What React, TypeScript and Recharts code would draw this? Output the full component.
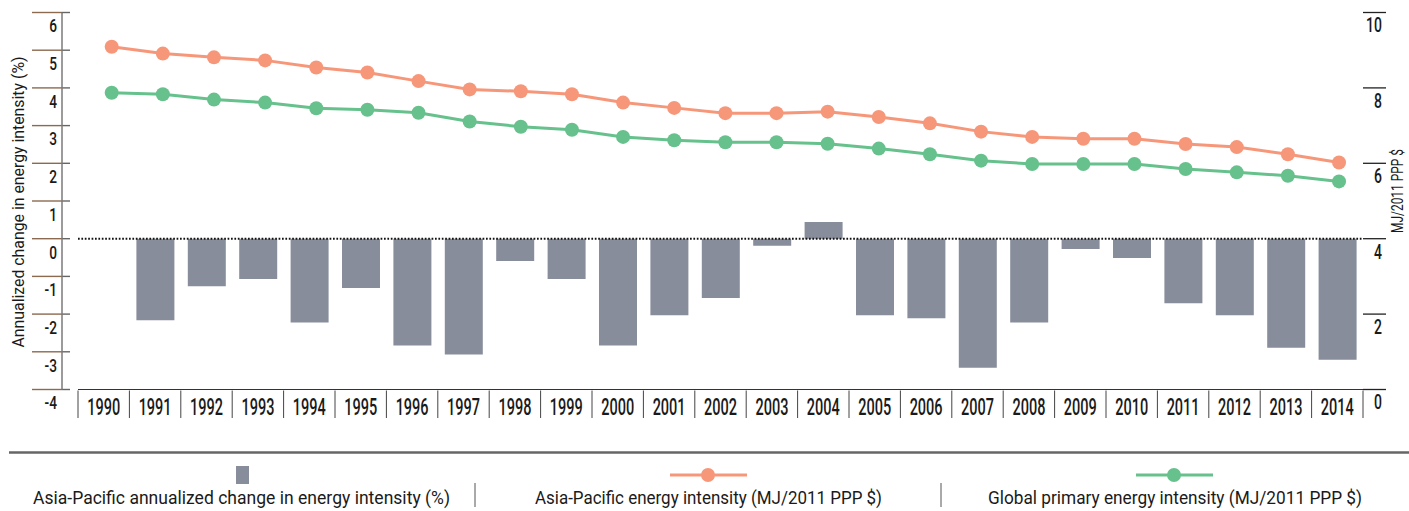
import React from 'react';
import { ComposedChart, Bar, Line, XAxis, YAxis, ReferenceLine, Legend } from 'recharts';

// ---------- data ----------
const years = ['1990', '1991', '1992', '1993', '1994', '1995', '1996', '1997', '1998', '1999', '2000', '2001', '2002', '2003', '2004', '2005', '2006', '2007', '2008', '2009', '2010', '2011', '2012', '2013', '2014'];
const annualChange: (number | null)[] = [null, -2.16, -1.26, -1.07, -2.22, -1.31, -2.83, -3.07, -0.59, -1.07, -2.83, -2.03, -1.57, -0.19, 0.44, -2.03, -2.11, -3.42, -2.22, -0.27, -0.51, -1.71, -2.03, -2.89, -3.21];
const asiaPacificIntensity = [9.09, 8.91, 8.81, 8.73, 8.54, 8.41, 8.18, 7.96, 7.91, 7.83, 7.61, 7.47, 7.33, 7.33, 7.37, 7.23, 7.06, 6.84, 6.70, 6.65, 6.65, 6.51, 6.43, 6.24, 6.02];
const globalIntensity = [7.87, 7.83, 7.69, 7.61, 7.46, 7.42, 7.34, 7.11, 6.97, 6.89, 6.70, 6.61, 6.56, 6.56, 6.52, 6.39, 6.24, 6.07, 5.98, 5.98, 5.98, 5.85, 5.76, 5.67, 5.52];
const leftTicks = [-4, -3, -2, -1, 0, 1, 2, 3, 4, 5, 6];
const rightTicks = [0, 2, 4, 6, 8, 10];
const seriesNames = [
  'Asia-Pacific annualized change in energy intensity (%)',
  'Asia-Pacific energy intensity (MJ/2011 PPP $)',
  'Global primary energy intensity (MJ/2011 PPP $)',
];
const leftAxisTitle = 'Annualized change in energy intensity (%)';
const rightAxisTitle = 'MJ/2011 PPP $';

const data = years.map((year, i) => ({
  year,
  idx: i,
  change: annualChange[i],
  asia: asiaPacificIntensity[i],
  global: globalIntensity[i],
}));

// ---------- layout / style ----------
const W = 1409;
const H = 511;
const PLOT_LEFT = 78;
const PLOT_RIGHT = 1363;
const PLOT_TOP = 12.5;
const PLOT_BOTTOM = 389.5;
const XAXIS_H = 30;
const BAND = (PLOT_RIGHT - PLOT_LEFT) / years.length;

const BAR_COLOR = '#878d9b';
const ORANGE = '#f7977a';
const GREEN = '#66c18c';
const TEXT = '#1a1a1a';
const FONT = 'Roboto, "DejaVu Sans", sans-serif';

const CondText = ({ px, py, anchor = 'middle', size = 17, sx = 0.78, weight = 500, children }: any) => (
  <text
    transform={`translate(${px},${py}) scale(${sx},1)`}
    textAnchor={anchor}
    dominantBaseline="central"
    fontFamily={FONT}
    fontSize={size}
    fontWeight={weight}
    fill={TEXT}
  >
    {children}
  </text>
);

const LeftTick = (props: any) => {
  const { y, payload } = props;
  const v = payload.value;
  return (
    <g>
      {v === leftTicks[leftTicks.length - 1] && (
        <line x1={62} x2={62} y1={PLOT_TOP} y2={PLOT_BOTTOM} stroke="#7a7a7a" strokeWidth={1.5} />
      )}
      <line x1={32} x2={62} y1={y} y2={y} stroke="#8c6a4f" strokeWidth={1.4} />
      <line x1={62} x2={70} y1={y} y2={y} stroke="#666" strokeWidth={1.4} />
      <CondText px={57} py={y + 13.5} anchor="end" size={19} sx={0.72}>{String(v)}</CondText>
    </g>
  );
};

const RightTick = (props: any) => {
  const { y, payload } = props;
  const v = payload.value;
  return (
    <g>
      <line x1={PLOT_RIGHT} x2={PLOT_RIGHT + 23} y1={y} y2={y} stroke="#222" strokeWidth={1.3} />
      <CondText px={PLOT_RIGHT + 19} py={y + 13} anchor="end" size={20} sx={0.7}>{String(v)}</CondText>
    </g>
  );
};

const YearTick = (props: any) => {
  const { x, payload, index } = props;
  const half = BAND / 2;
  return (
    <g>
      <line x1={x - half} x2={x - half} y1={PLOT_BOTTOM + 1} y2={PLOT_BOTTOM + 28.5} stroke="#444" strokeWidth={1} />
      {index === years.length - 1 && (
        <line x1={x + half} x2={x + half} y1={PLOT_BOTTOM + 1} y2={PLOT_BOTTOM + 28.5} stroke="#444" strokeWidth={1} />
      )}
      <CondText px={x} py={PLOT_BOTTOM + 17.5} size={23} sx={0.63}>{payload.value}</CondText>
    </g>
  );
};

const AxisTitle = ({ cx, cy, text, len, size = 17 }: any) => (
  <text
    transform={`translate(${cx},${cy}) rotate(-90)`}
    textAnchor="middle"
    dominantBaseline="central"
    fontFamily={FONT}
    fontSize={size}
    fill={TEXT}
    textLength={len}
    lengthAdjust="spacingAndGlyphs"
  >
    {text}
  </text>
);

const LegendText = ({ cx, text, len }: any) => (
  <text
    x={cx}
    y={57}
    textAnchor="middle"
    dominantBaseline="central"
    fontFamily={FONT}
    fontSize={18}
    fill={TEXT}
    textLength={len}
    lengthAdjust="spacingAndGlyphs"
  >
    {text}
  </text>
);

const LegendContent = () => (
  <svg width={W} height={71} style={{ display: 'block' }}>
    <line x1={9} x2={W} y1={12.5} y2={12.5} stroke="#666" strokeWidth={2.5} />
    <rect x={236} y={26} width={13} height={18} fill={BAR_COLOR} />
    <LegendText cx={241.5} text={seriesNames[0]} len={417} />
    <line x1={475} x2={475} y1={43} y2={67} stroke="#555" strokeWidth={1} />
    <line x1={670} x2={747} y1={35} y2={35} stroke={ORANGE} strokeWidth={3} />
    <circle cx={708} cy={35} r={7} fill={ORANGE} />
    <LegendText cx={708.5} text={seriesNames[1]} len={347} />
    <line x1={941} x2={941} y1={43} y2={67} stroke="#555" strokeWidth={1} />
    <line x1={1136} x2={1213} y1={35} y2={35} stroke={GREEN} strokeWidth={3} />
    <circle cx={1174} cy={35} r={7} fill={GREEN} />
    <LegendText cx={1175} text={seriesNames[2]} len={374} />
  </svg>
);

export default function App() {
  return (
    <div style={{ position: 'absolute', left: 0, top: 0, width: W, height: H, background: '#fff' }}>
      <ComposedChart
        width={W}
        height={H}
        data={data}
        margin={{ top: PLOT_TOP, right: 0, left: 0, bottom: H - PLOT_BOTTOM - XAXIS_H }}
      >
        <XAxis
          xAxisId="cat"
          dataKey="year"
          type="category"
          height={XAXIS_H}
          interval={0}
          tickLine={false}
          axisLine={{ stroke: '#333', strokeWidth: 1.2 }}
          tick={<YearTick />}
        />
        <XAxis xAxisId="num" dataKey="idx" type="number" domain={[-0.659, 24.469]} hide />
        <YAxis
          yAxisId="left"
          orientation="left"
          type="number"
          domain={[-4, 6]}
          ticks={leftTicks}
          interval={0}
          width={PLOT_LEFT}
          axisLine={false}
          tickLine={false}
          tick={<LeftTick />}
          label={<AxisTitle cx={18} cy={202} text={leftAxisTitle} len={291} />}
        />
        <YAxis
          yAxisId="right"
          orientation="right"
          type="number"
          domain={[0, 10]}
          ticks={rightTicks}
          interval={0}
          width={W - PLOT_RIGHT}
          axisLine={false}
          tickLine={false}
          tick={<RightTick />}
          label={<AxisTitle cx={1397} cy={191} text={rightAxisTitle} len={84} size={17} />}
        />
        <Legend
          layout="horizontal"
          verticalAlign="middle"
          align="center"
          width={W}
          wrapperStyle={{ position: 'absolute', left: 0, top: 440, width: W, height: 71 }}
          content={<LegendContent />}
        />
        <Bar
          xAxisId="cat"
          yAxisId="left"
          dataKey="change"
          name={seriesNames[0]}
          fill={BAR_COLOR}
          barSize={38}
          isAnimationActive={false}
        />
        <ReferenceLine
          xAxisId="cat"
          yAxisId="left"
          y={0}
          stroke="#111"
          strokeWidth={2}
          strokeDasharray="1.7 1.7"
        />
        <Line
          xAxisId="num"
          yAxisId="right"
          dataKey="asia"
          name={seriesNames[1]}
          stroke={ORANGE}
          strokeWidth={3}
          dot={{ r: 7, fill: ORANGE, stroke: 'none', strokeWidth: 0 }}
          activeDot={false}
          isAnimationActive={false}
        />
        <Line
          xAxisId="num"
          yAxisId="right"
          dataKey="global"
          name={seriesNames[2]}
          stroke={GREEN}
          strokeWidth={3}
          dot={{ r: 7, fill: GREEN, stroke: 'none', strokeWidth: 0 }}
          activeDot={false}
          isAnimationActive={false}
        />
      </ComposedChart>
    </div>
  );
}
